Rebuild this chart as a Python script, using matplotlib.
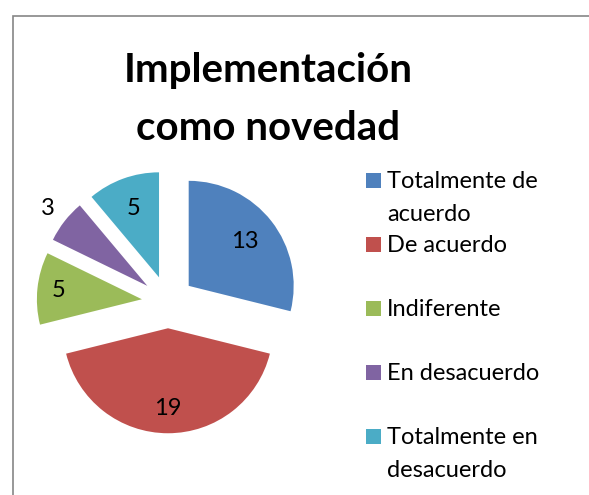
import numpy as np
import matplotlib.pyplot as plt
from matplotlib.patches import Rectangle

plt.rcParams['font.family'] = ['Lato', 'DejaVu Sans']

categories = ['Totalmente de\nacuerdo', 'De acuerdo', 'Indiferente',
              'En desacuerdo', 'Totalmente en\ndesacuerdo']
values = [13, 19, 5, 3, 5]
colors = ['#4F81BD', '#C0504D', '#9BBB59', '#8064A2', '#4BACC6']
title_lines = ['Implementación', 'como novedad']

W, H = 589, 495
fig = plt.figure(figsize=(W / 100, H / 100), dpi=100)

# chart area frame (runs off the right / bottom edge like the screenshot)
fig.patches.append(Rectangle((13 / W, -0.1), 1.0, 1 - 16 / H + 0.1,
                             transform=fig.transFigure, fill=False,
                             edgecolor='#868686', linewidth=1.2))

# pie axes: 105 px per unit radius, centre at (168, 302) px
r_px = 105
half = 1.6
size = 2 * half * r_px
ax = fig.add_axes([(168 - size / 2) / W, (H - 302 - size / 2) / H, size / W, size / H])
wedges, _ = ax.pie(values, colors=colors, startangle=90, counterclock=False,
                   explode=[0.25] * len(values), wedgeprops=dict(linewidth=0))
ax.set_xlim(-half, half)
ax.set_ylim(-half, half)
ax.axis('off')

label_dist = [0.68, 0.76, 0.8, 1.2, 0.7]
for w, v, d in zip(wedges, values, label_dist):
    ang = np.deg2rad((w.theta1 + w.theta2) / 2)
    cx, cy = w.center
    ax.text(cx + d * np.cos(ang), cy + d * np.sin(ang), str(v),
            ha='center', va='center', fontsize=17)

# title
for i, line in enumerate(title_lines):
    fig.text(268 / W, 1 - (82 + 58 * i) / H, line, ha='center', va='baseline',
             fontsize=29, fontweight='bold')

# legend, Excel style: square next to first line
for i, (lab, c) in enumerate(zip(categories, colors)):
    y0 = 188 + 64 * i
    fig.patches.append(Rectangle((366 / W, 1 - y0 / H), 15 / W, 15 / H,
                                 transform=fig.transFigure, facecolor=c,
                                 edgecolor='none'))
    for j, part in enumerate(lab.split('\n')):
        fig.text(387 / W, 1 - (y0 + 33 * j) / H, part, ha='left',
                 va='baseline', fontsize=17)

fig.savefig('out.png', dpi=100)
